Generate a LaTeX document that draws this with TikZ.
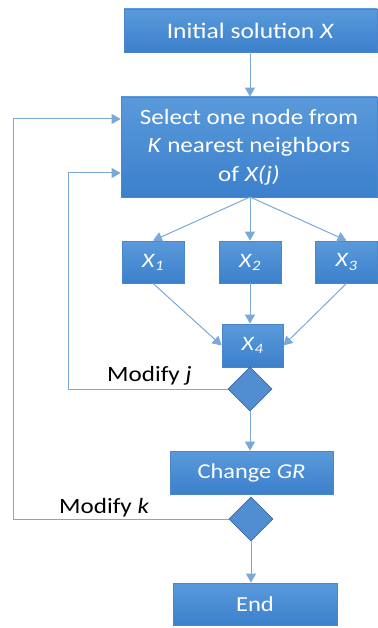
\documentclass[tikz,border=0pt]{standalone}
\usepackage{fontspec}
\setmainfont{Carlito}[FakeStretch=1.15]
\usetikzlibrary{shapes.geometric,arrows.meta}
\definecolor{boxtop}{HTML}{5A9ADB}
\definecolor{boxbot}{HTML}{3C80CC}
\definecolor{boxline}{HTML}{4A86C8}
\definecolor{wire}{HTML}{7AA8D8}
\newcommand{\fs}[1]{\fontsize{#1}{28.5}\selectfont}
\tikzset{
  box/.style={draw=boxline, line width=0.8pt, top color=boxtop, bottom color=boxbot,
    text=white, align=center, inner sep=0pt},
  dec/.style={diamond, draw=boxline!80!black, line width=0.8pt, fill=boxbot!90!white,
    minimum width=44pt, minimum height=44pt, inner sep=0pt},
  wireline/.style={draw=wire, line width=1pt},
  arr/.style={wireline, -{Triangle[length=9pt,width=10pt]}},
  lbl/.style={text=black, font=\fs{21.8}, inner sep=0pt}
}
\begin{document}
\begin{tikzpicture}[x=1pt,y=-1pt]
\useasboundingbox (0,0) rectangle (377,628);
\node[box, font=\fs{22.2}, minimum width=253pt, minimum height=43pt] (init) at (250.5,30.5) {Initial solution \textit{X}};
\node[box, font=\fs{21.8}, minimum width=256pt, minimum height=100pt] (sel) at (249,147) {Select one node from\\\textit{K} nearest neighbors\\of \textit{X(j)}};
\node[box, font=\fs{20.5}, minimum width=62pt, minimum height=42pt] (x1) at (153,262) {\textit{X}\textsubscript{\textit{1}}};
\node[box, font=\fs{20.5}, minimum width=62pt, minimum height=42pt] (x2) at (250,262) {\textit{X}\textsubscript{\textit{2}}};
\node[box, font=\fs{20.5}, minimum width=62pt, minimum height=42pt] (x3) at (346.5,262) {\textit{X}\textsubscript{\textit{3}}};
\node[box, font=\fs{20.5}, minimum width=61pt, minimum height=43pt] (x4) at (252.5,345.5) {\textit{X}\textsubscript{\textit{4}}};
\node[dec] (d1) at (250,389) {};
\node[box, font=\fs{21.2}, minimum width=163pt, minimum height=43pt] (gr) at (251.5,472.5) {Change \textit{GR}};
\node[dec] (d2) at (251,519) {};
\node[box, font=\fs{21.4}, minimum width=164pt, minimum height=42pt] (end) at (255,604) {End};
\node[lbl, anchor=base west] (mj) at (107,381) {Modify \textit{j}};
\node[lbl, anchor=base west] (mk) at (59,513) {Modify \textit{k}};
\coordinate (selb) at (250,197);
\draw[arr] (init.south -| selb) -- (sel.north -| selb);
\draw[arr] (selb) -- (x1.north);
\draw[arr] (selb) -- (x2.north);
\draw[arr] (selb) -- (x3.north);
\draw[arr] (x1.south) -- (x4.west);
\draw[arr] (x2.south) -- (x2.south |- x4.north);
\draw[arr] (x3.south) -- (x4.east);
\draw[arr] (d1.south) -- (d1.south |- gr.north);
\draw[arr] (d2.south) -- (d2.south |- end.north);
\coordinate (in1) at (68,173);
\coordinate (in2) at (13,119);
\draw[arr] (d1.west) -| (in1) -- (in1 -| sel.west);
\draw[arr] (d2.west) -| (in2) -- (in2 -| sel.west);
\end{tikzpicture}
\end{document}
